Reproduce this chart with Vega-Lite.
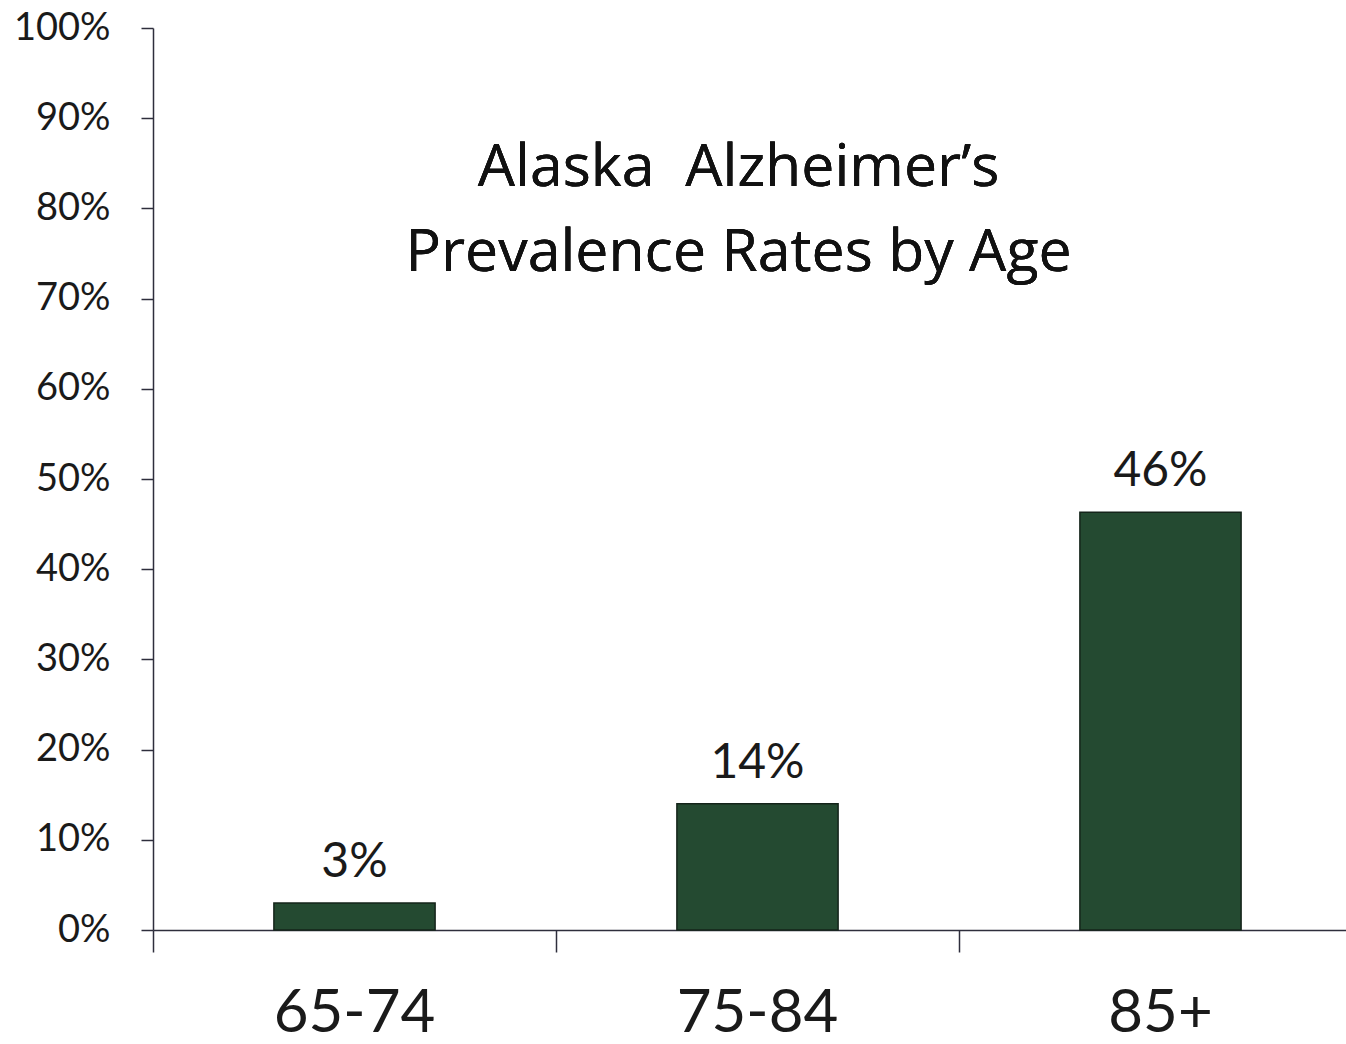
{
  "$schema": "https://vega.github.io/schema/vega-lite/v6.json",
  "autosize": "none",
  "padding": {"left": 153, "top": 28, "right": 0, "bottom": 114},
  "width": 1193,
  "height": 902,
  "background": "white",
  "config": {"view": {"stroke": null}, "font": "Lato"},
  "data": {"values": [
    {"age": "65-74", "rate": 0.03},
    {"age": "75-84", "rate": 0.14},
    {"age": "85+", "rate": 0.463}
  ]},
  "encoding": {
    "x": {"field": "age", "type": "nominal", "sort": null,
      "scale": {"range": [0, 1209], "paddingInner": 0.6, "paddingOuter": 0.3},
      "axis": {"title": null, "labelAngle": 0, "bandPosition": -0.75, "labelOffset": 0,
        "tickSize": 22, "domainColor": "#2e2e3c", "tickColor": "#2e2e3c", "domainWidth": 1.5, "tickWidth": 1.5,
        "labelFontSize": 60, "labelColor": "#1a1a1a", "labelPadding": 32, "labelFont": "Lato"}},
    "y": {"field": "rate", "type": "quantitative",
      "scale": {"domain": [0, 1], "nice": false},
      "axis": {"title": null, "format": ".0%", "values": [0,0.1,0.2,0.3,0.4,0.5,0.6,0.7,0.8,0.9,1],
        "grid": false, "tickSize": 12, "labelPadding": 31, "labelFontSize": 38, "labelColor": "#1a1a1a",
        "domainColor": "#2e2e3c", "tickColor": "#2e2e3c", "domainWidth": 1.5, "tickWidth": 1.5, "labelFont": "Lato"}}
  },
  "layer": [
    {"mark": {"type": "bar", "fill": "#244a31", "stroke": "#14241a", "strokeWidth": 1.5}},
    {"mark": {"type": "text", "baseline": "alphabetic", "dy": -26, "fontSize": 48, "color": "#1a1a1a"},
      "encoding": {"text": {"field": "rate", "format": ".0%"}}},
    {"mark": {"type": "text", "baseline": "alphabetic", "align": "center", "dx": -19, "fontSize": 59, "lineHeight": 85, "color": "#111111", "font": "Open Sans",
      "text": ["Alaska\u00a0 Alzheimer’s", "Prevalence Rates by Age"]},
      "encoding": {"x": {"datum": "75-84"}, "y": {"datum": 0.825}, "text": null}}
  ]
}
